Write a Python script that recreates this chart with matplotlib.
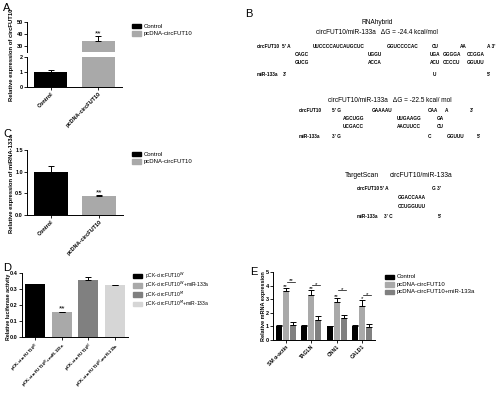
import numpy as np
import matplotlib
matplotlib.use('Agg')
from matplotlib import pyplot as plt
from matplotlib.patches import Rectangle

plt.rcParams['font.family'] = ['Liberation Sans', 'DejaVu Sans']

# ---- data ----
groupsAC = ['Control', 'pcDNA-circFUT10']
circFUT10 = [1.02, 34.0]
circFUT10Err = [0.1, 4.0]
mir133a = [1.0, 0.44]
mir133aErr = [0.12, 0.03]

lucLabels = ['pCK-circFUT10$^{W}$', 'pCK-circFUT10$^{W}$+miR-133a',
             'pCK-circFUT10$^{M}$', 'pCK-circFUT10$^{M}$+miR-133a']
luc = [0.33, 0.155, 0.355, 0.325]
lucErr = [0.003, 0.003, 0.02, 0.003]

genes = ['SM α-actin', 'TAGLN', 'CNN1', 'CALD1']
seriesE = ['Control', 'pcDNA-circFUT10', 'pcDNA-circFUT10+miR-133a']
ctrlE = [1.0, 1.0, 1.0, 1.0]
ctrlEErr = [0.08, 0.12, 0.05, 0.08]
pcE = [3.6, 3.3, 2.8, 2.5]
pcEErr = [0.22, 0.35, 0.3, 0.45]
mirE = [1.1, 1.5, 1.62, 0.93]
mirEErr = [0.22, 0.3, 0.2, 0.22]
pcStars = ['**', '**', '**', '*']
bracketStars = ['**', '*', '*', '*']
bracketY = [4.3, 4.05, 3.65, 3.3]

# RNAhybrid / TargetScan text
hyb1Title = 'circFUT10/miR-133a   ΔG = -24.4 kcal/mol'
hyb1Rows = [['circFUT10', "5' A", 'UUCCCCAUCAUGCUC', 'GGUCCCCAC', 'CU', 'AA', "A 3'"],
            ['CAGC', 'UGGU', 'UGA', 'GGGGA', 'CCGGA'],
            ['GUCG', 'ACCA', 'ACU', 'CCCCU', 'GGUUU'],
            ['miR-133a', "3'", 'U', "5'"]]
hyb2Title = 'circFUT10/miR-133a   ΔG = -22.5 kcal/ mol'
hyb2Rows = [['circFUT10', "5' G", 'GAAAAU', 'CAA', 'A', "3'"],
            ['AGCUGG', 'UUGAAGG', 'GA'],
            ['UCGACC', 'AACUUCC', 'CU'],
            ['miR-133a', "3' G", 'C', 'GGUUU', "5'"]]
tsRows = [['circFUT10', "5' A", "G 3'"],
          ['GGACCAAA'],
          ['CCUGGUUU'],
          ['miR-133a', "3' C", "5'"]]

W, H = 500, 393
fig = plt.figure(figsize=(W / 100, H / 100), dpi=100)
fig.patch.set_facecolor('white')

GRAY = '#a9a9a9'
DARK = '#808080'
LIGHT = '#d6d6d6'


def box(l, t, r, b):
    ax = fig.add_axes([l / W, 1 - b / H, (r - l) / W, (b - t) / H])
    ax.spines['top'].set_visible(False)
    ax.spines['right'].set_visible(False)
    for s in ['left', 'bottom']:
        ax.spines[s].set_linewidth(0.7)
    ax.tick_params(labelsize=4, width=0.6, length=2, pad=1)
    return ax


def ftext(x, y, s, **kw):
    fig.text(x / W, 1 - y / H, s, **kw)


def legend(x, y, labels, colors, dy=7.5, size=4.3):
    for i, (lab, c) in enumerate(zip(labels, colors)):
        yy = y + i * dy
        fig.add_artist(Rectangle((x / W, 1 - (yy + 2.2) / H), 9 / W, 4.4 / H,
                                 transform=fig.transFigure, color=c))
        ftext(x + 12, yy, lab, fontsize=size, va='center')


def upperErr(ax, x, vals, errs):
    ax.errorbar(x, vals, yerr=[np.zeros(len(vals)), errs], fmt='none',
                ecolor='black', elinewidth=0.7, capsize=2.5, capthick=0.7)


def xlabs(ax, labels, size=4):
    ax.set_xticks(range(len(labels)))
    ax.set_xticklabels(labels, rotation=45, ha='right', rotation_mode='anchor',
                       fontsize=size, fontweight='bold')


def ylabs(ax, ticks, fmt):
    ax.set_yticks(ticks)
    ax.set_yticklabels([fmt.format(v) for v in ticks], fontweight='bold')


# ---- panel A (broken axis) ----
ftext(3, 8, 'A', fontsize=8, va='center')
xa = np.arange(2)
axU = box(27, 22, 122, 52)
axL = box(27, 57, 122, 87)
axU.bar(xa, circFUT10, width=0.7, color=['black', GRAY])
upperErr(axU, xa[1:], circFUT10[1:], circFUT10Err[1:])
axU.set_ylim(25, 50)
ylabs(axU, [30, 40, 50], '{:d}')
axU.set_xlim(-0.5, 1.5)
axU.spines['bottom'].set_visible(False)
axU.set_xticks([])
axU.text(1, circFUT10[1] + circFUT10Err[1] + 0.5, '**', ha='center', fontsize=6)
axL.bar(xa, circFUT10, width=0.7, color=['black', GRAY])
upperErr(axL, xa[:1], circFUT10[:1], circFUT10Err[:1])
axL.set_ylim(0, 2)
ylabs(axL, [0, 1, 2], '{:d}')
axL.set_xlim(-0.5, 1.5)
xlabs(axL, groupsAC)
ftext(12, 55, 'Relative expression of circFUT10', rotation=90, fontsize=4.2,
      fontweight='bold', ha='center', va='center')
legend(132, 26, groupsAC, ['black', GRAY])

# ---- panel C ----
ftext(3, 134, 'C', fontsize=8, va='center')
axC = box(27, 150, 123, 215)
axC.bar(xa, mir133a, width=0.7, color=['black', GRAY])
upperErr(axC, xa, mir133a, mir133aErr)
axC.set_ylim(0, 1.5)
ylabs(axC, [0.0, 0.5, 1.0, 1.5], '{:.1f}')
axC.set_xlim(-0.5, 1.5)
xlabs(axC, groupsAC)
axC.text(1, mir133a[1] + mir133aErr[1] + 0.005, '**', ha='center', fontsize=6)
ftext(12, 184, 'Relative expression of miRNA-133a', rotation=90, fontsize=4.2,
      fontweight='bold', ha='center', va='center')
legend(132, 154, groupsAC, ['black', GRAY])

# ---- panel D ----
ftext(3, 268, 'D', fontsize=8, va='center')
axD = box(22, 273, 128, 337)
xd = np.arange(4)
axD.bar(xd, luc, width=0.75, color=['black', GRAY, DARK, LIGHT])
upperErr(axD, xd, luc, lucErr)
axD.set_ylim(0, 0.4)
ylabs(axD, [0.0, 0.1, 0.2, 0.3, 0.4], '{:.1f}')
axD.set_xlim(-0.5, 3.5)
xlabs(axD, lucLabels, size=3.2)
axD.text(1, luc[1] + 0.01, '**', ha='center', fontsize=6)
ftext(9, 307, 'Relative luciferase activity', rotation=90, fontsize=3.8,
      fontweight='bold', ha='center', va='center')
legend(133, 276, lucLabels, ['black', GRAY, DARK, LIGHT], dy=9.3, size=3.6)

# ---- panel E ----
ftext(250, 272, 'E', fontsize=8, va='center')
axE = box(273, 272, 375, 340)
xe = np.arange(4)
off = 0.28
bw = 0.23
axE.bar(xe - off, ctrlE, width=bw, color='black')
axE.bar(xe, pcE, width=bw, color=GRAY)
axE.bar(xe + off, mirE, width=bw, color=DARK)
upperErr(axE, xe - off, ctrlE, ctrlEErr)
upperErr(axE, xe, pcE, pcEErr)
upperErr(axE, xe + off, mirE, mirEErr)
for i in range(4):
    axE.text(xe[i], pcE[i] + pcEErr[i] + 0.02, pcStars[i], ha='center',
             fontsize=4.5)
    axE.plot([xe[i] + 0.04, xe[i] + off + 0.08], [bracketY[i]] * 2,
             color='black', lw=0.5)
    axE.text(xe[i] + off / 2 + 0.06, bracketY[i] - 0.05, bracketStars[i],
             ha='center', fontsize=4.5)
axE.set_ylim(0, 5)
ylabs(axE, list(range(6)), '{:d}')
axE.set_xlim(-0.5, 3.5)
xlabs(axE, genes, size=3.7)
ftext(263, 306, 'Relative mRNA expression', rotation=90, fontsize=4.0,
      fontweight='bold', ha='center', va='center')
legend(385, 277, seriesE, ['black', GRAY, DARK])

# ---- panel B (text) ----
ftext(245, 14, 'B', fontsize=8, va='center')
ftext(377, 23, 'RNAhybrid', fontsize=4.7, ha='center', va='center')
ftext(377, 33, hyb1Title, fontsize=4.7, ha='center', va='center')
hyb1X = [[257, 282, 313, 387, 432, 460, 487],
         [295, 368, 430, 443, 467],
         [295, 368, 430, 443, 467],
         [257, 283, 433, 487]]
hyb1Y = [47, 55, 63, 74]
for row, xs, y in zip(hyb1Rows, hyb1X, hyb1Y):
    for s, x in zip(row, xs):
        ftext(x, y, s, fontsize=3.4, fontweight='bold', va='center')

ftext(390, 100, hyb2Title, fontsize=4.7, ha='center', va='center')
hyb2X = [[299, 332, 372, 428, 445, 470],
         [343, 397, 437],
         [343, 397, 437],
         [299, 332, 428, 447, 477]]
hyb2Y = [110, 118, 126, 136]
for row, xs, y in zip(hyb2Rows, hyb2X, hyb2Y):
    for s, x in zip(row, xs):
        ftext(x, y, s, fontsize=3.4, fontweight='bold', va='center')

ftext(345, 175, 'TargetScan', fontsize=4.9, va='center')
ftext(390, 175, 'circFUT10/miR-133a', fontsize=4.9, va='center')
tsX = [[357, 380, 432], [398], [398], [357, 384, 438]]
tsY = [188, 198, 207, 217]
for row, xs, y in zip(tsRows, tsX, tsY):
    for s, x in zip(row, xs):
        ftext(x, y, s, fontsize=3.4, fontweight='bold', va='center')

fig.savefig('out.png', dpi=100)
